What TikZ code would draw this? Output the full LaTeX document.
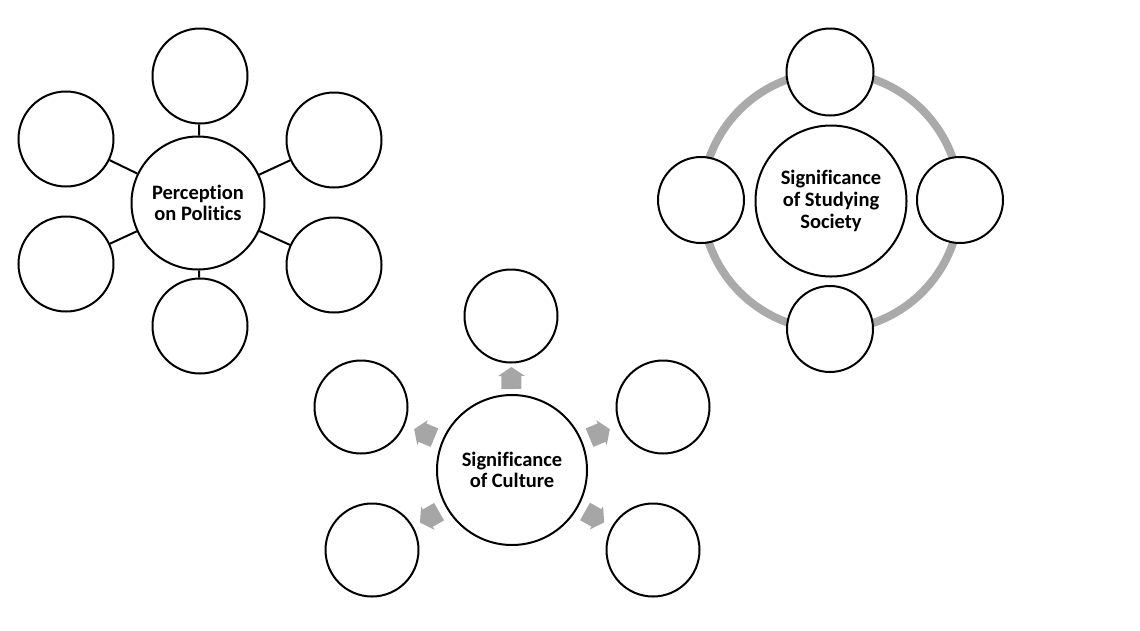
\documentclass[tikz,border=0pt]{standalone}
\usepackage{fontspec}
\setmainfont[Ligatures=NoCommon]{Carlito}
\usetikzlibrary{calc}
\definecolor{arrowgray}{RGB}{166,166,166}
\definecolor{ringgray}{RGB}{170,170,170}
\tikzset{
  bubble/.style={circle,draw=black,line width=2pt,fill=white,inner sep=0pt},
  hub/.style={bubble,font=\fontsize{20.5}{21.7}\selectfont\bfseries,align=center},
  link/.style={draw=black,line width=2pt},
  barrow/.pic={\fill[arrowgray] (-11,-10) -- (2,-10) -- (2,-13.5) -- (11,0) -- (2,13.5) -- (2,10) -- (-11,10) -- cycle;}
}
\begin{document}
\begin{tikzpicture}[x=1pt,y=-1pt]
\useasboundingbox (0,0) rectangle (1140,630);
% ---------- Perception on Politics ----------
\node[hub,minimum size=133pt] (pc) at (198,203) {Perception\\on Politics};
\node[bubble,minimum size=95pt] (pt) at (200,76) {};
\node[bubble,minimum size=95pt] (pul) at (66,139) {};
\node[bubble,minimum size=95pt] (pur) at (334,140) {};
\node[bubble,minimum size=95pt] (pll) at (66,264) {};
\node[bubble,minimum size=95pt] (plr) at (334,265) {};
\node[bubble,minimum size=95pt] (pb) at (200,326) {};
\foreach \o in {pt,pul,pur,pll,plr,pb} \draw[link] (pc) -- (\o);
% ---------- Significance of Studying Society ----------
\node[hub,minimum size=151pt] (sc) at (831,201) {Significance\\of Studying\\Society};
\draw[ringgray,line width=8pt] (sc.center) circle[radius=129pt];
\node[bubble,minimum size=87pt] (st) at (830,72) {};
\node[bubble,minimum size=86pt] (sl) at (701,200) {};
\node[bubble,minimum size=86pt] (sr) at (960,200) {};
\node[bubble,minimum size=86pt] (sb) at (830,329) {};
% ---------- Significance of Culture ----------
\node[hub,minimum size=150pt] (cc) at (512,470) {Significance\\of Culture};
\node[bubble,minimum size=93pt] (ct) at (511,316) {};
\node[bubble,minimum size=93pt] (cul) at (361,407) {};
\node[bubble,minimum size=93pt] (cur) at (663,407) {};
\node[bubble,minimum size=93pt] (cll) at (372,550) {};
\node[bubble,minimum size=93pt] (clr) at (653,550) {};
\foreach \o/\d in {ct/92pt,cul/95pt,cur/95pt,cll/95pt,clr/95pt}
  \path let \p1=($(\o)-(cc)$), \n1={atan2(\y1,\x1)} in
    pic[rotate=\n1] at ($(cc)!\d!(\o)$) {barrow};
\end{tikzpicture}
\end{document}
